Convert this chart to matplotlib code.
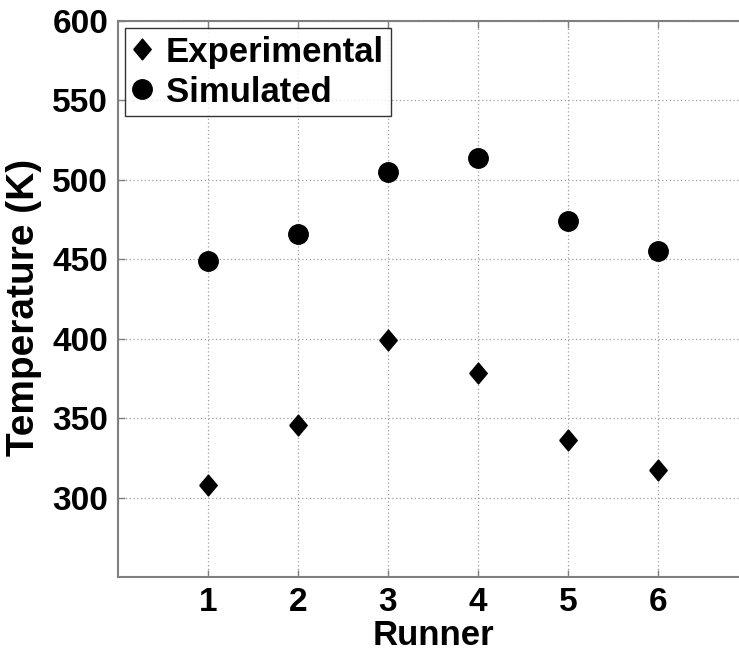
import matplotlib
matplotlib.use("Agg")
import matplotlib.pyplot as plt

runners = [1, 2, 3, 4, 5, 6]
experimental = [307.6, 345.8, 399, 378.4, 336.3, 317.4]
simulated = [449, 466, 505, 514, 474, 455]
yticks = [300, 350, 400, 450, 500, 550, 600]

plt.rcParams["font.family"] = ["Liberation Sans", "DejaVu Sans"]
plt.rcParams["font.weight"] = "bold"

fig = plt.figure(figsize=(7.39, 6.51), dpi=100)
ax = fig.add_axes([118 / 739, 74 / 651, 630 / 739, 556 / 651])

diamond = [(-0.42, 0), (0, 0.5), (0.42, 0), (0, -0.5), (-0.42, 0)]
ax.plot(runners, experimental, linestyle="none", marker=diamond,
        markersize=15, color="black", label="Experimental")
ax.plot(runners, simulated, linestyle="none", marker="o",
        markersize=14, color="black", label="Simulated")

ax.set_xlim(0, 7)
ax.set_ylim(250, 600)
ax.set_xticks(runners)
ax.set_yticks(yticks)
ax.tick_params(direction="in", length=5, width=1, color="#808080",
               top=True, right=True, labelsize=24, pad=7)
for lab in ax.get_xticklabels() + ax.get_yticklabels():
    lab.set_fontweight("bold")

for s in ax.spines.values():
    s.set_color("#808080")
    s.set_linewidth(1.5)

ax.grid(True, linestyle=(0, (1, 2)), color="#a0a0a0", linewidth=0.9)
ax.set_axisbelow(True)

ax.set_xlabel("Runner", fontsize=25, fontweight="bold")
ax.set_ylabel("Temperature (K)", fontsize=28, fontweight="bold")
ax.xaxis.set_label_coords(315 / 630, -0.076)
ax.yaxis.set_label_coords(-0.12, 0.484)

leg = ax.legend(loc="upper left", fontsize=25, frameon=True, fancybox=False,
                borderaxespad=0.2, borderpad=0.22, handlelength=0.55,
                handletextpad=0.4, labelspacing=0.2, numpoints=1)
leg.get_frame().set_edgecolor("black")
leg.get_frame().set_linewidth(1.0)
for t in leg.get_texts():
    t.set_fontweight("bold")

fig.savefig("out.png", dpi=100)
